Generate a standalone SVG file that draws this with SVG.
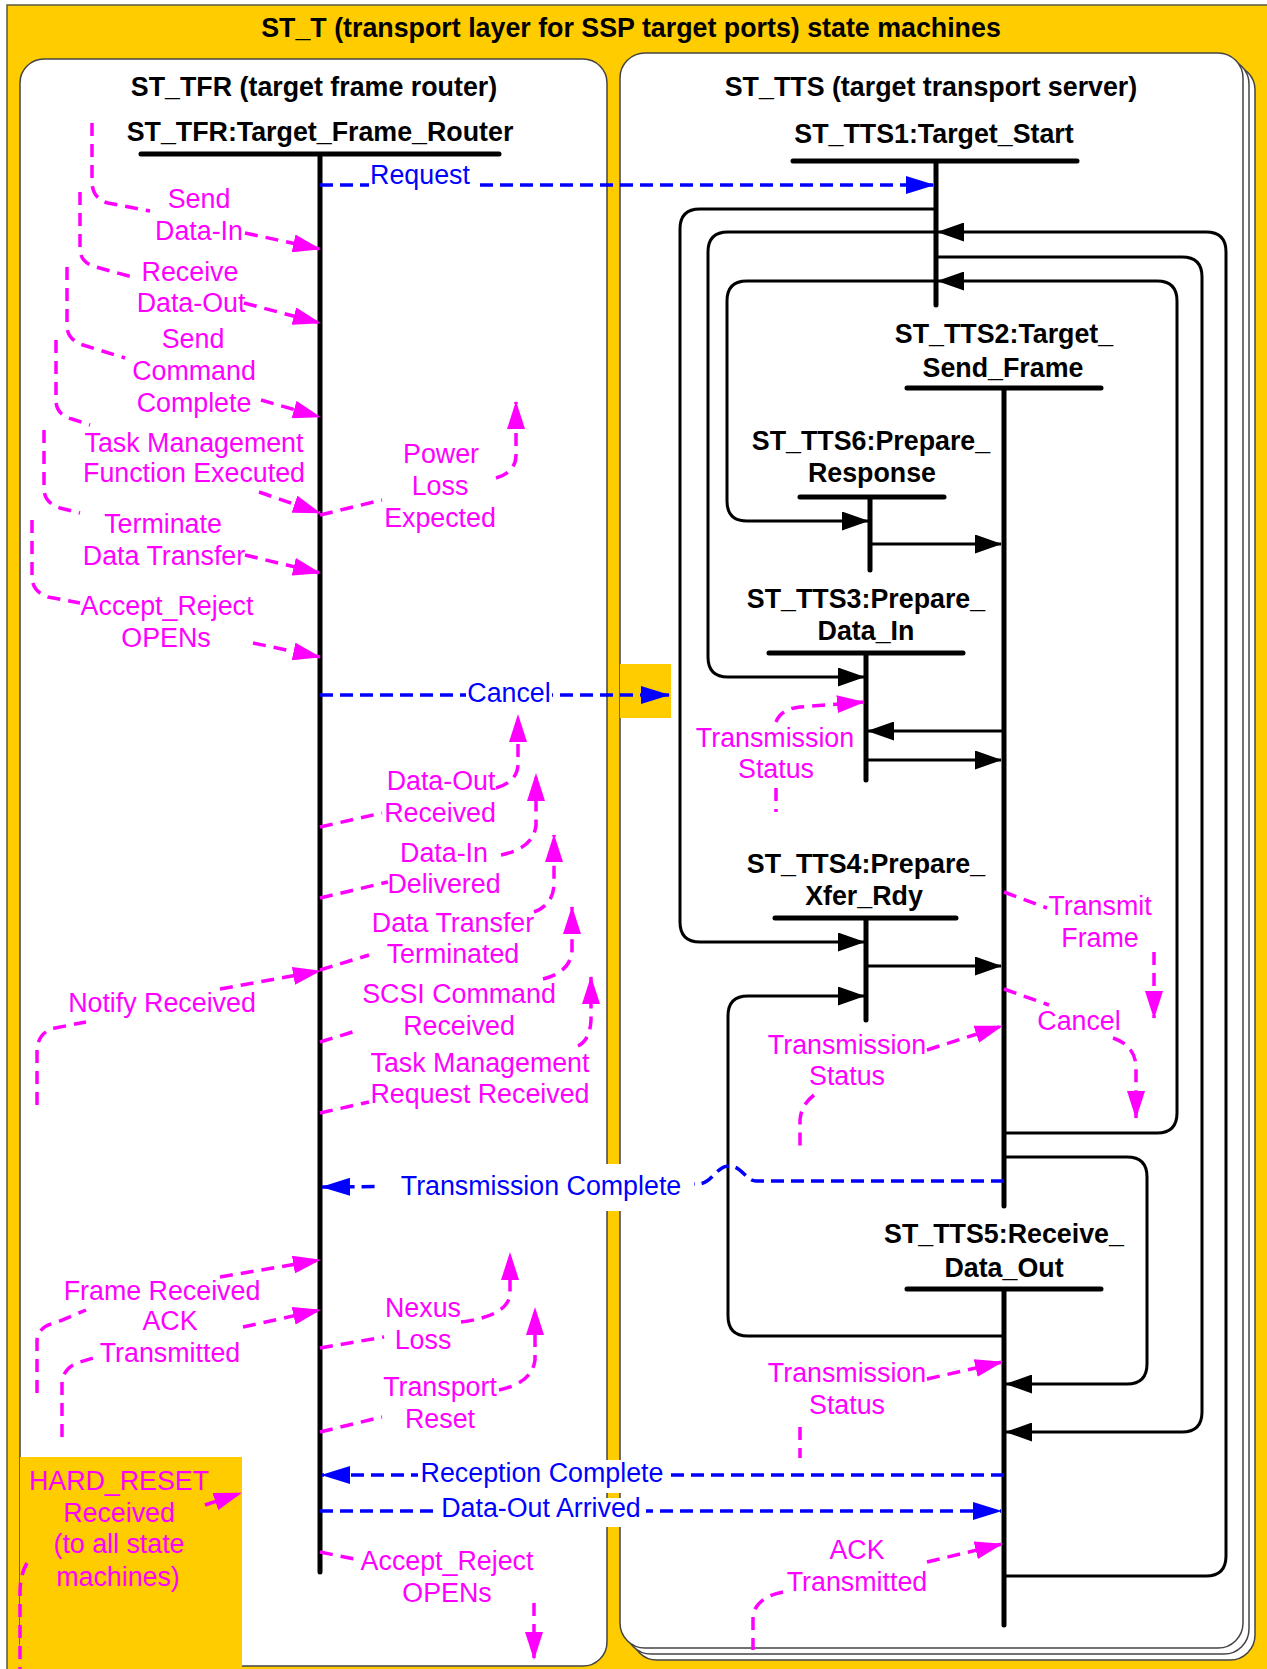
<svg xmlns="http://www.w3.org/2000/svg" width="1267" height="1669" viewBox="0 0 1267 1669">
<style>
.t{font-family:"Liberation Sans",Arial,sans-serif;font-size:26.8px;text-anchor:middle}
.b{font-weight:bold;fill:#000}
.m{fill:#FF00FF}
.u{fill:#0000FF}
.bar{stroke:#000;stroke-width:5;stroke-linecap:round;fill:none}
.loop{stroke:#000;stroke-width:3;fill:none}
.md{stroke:#FF00FF;stroke-width:3.5;stroke-dasharray:13 8;fill:none}
.bd{stroke:#0000FF;stroke-width:3.5;stroke-dasharray:13 7;fill:none}
.panel{fill:#fff;stroke:#444;stroke-width:1.5}
.bg{fill:#fff}
.yl{fill:#FFCC00}
</style>
<defs>
<marker id="aM" markerUnits="userSpaceOnUse" markerWidth="28" markerHeight="18" viewBox="0 0 28 18" refX="27" refY="9" orient="auto"><path d="M0,0 L28,9 L0,18 z" fill="#FF00FF"/></marker>
<marker id="aK" markerUnits="userSpaceOnUse" markerWidth="27" markerHeight="19" viewBox="0 0 27 19" refX="26" refY="9.5" orient="auto"><path d="M0,0 L27,9.5 L0,19 z" fill="#000"/></marker>
<marker id="aB" markerUnits="userSpaceOnUse" markerWidth="29" markerHeight="18" viewBox="0 0 29 18" refX="28" refY="9" orient="auto"><path d="M0,0 L29,9 L0,18 z" fill="#0000FF"/></marker>
</defs>

<g id="frame">
<rect x="7" y="5" width="1268" height="1672" fill="#FFCC00" stroke="#5a5a3a" stroke-width="1.5"/>
<text class="t b" x="631" y="37">ST_T (transport layer for SSP target ports) state machines</text>
</g>

<g id="tts-panel">
<rect class="panel" x="632" y="65" width="623" height="1595" rx="25"/>
<rect class="panel" x="626" y="59" width="623" height="1595" rx="25"/>
<rect class="panel" x="620" y="53" width="623" height="1595" rx="25"/>
<text class="t b" x="931" y="96">ST_TTS (target transport server)</text>
</g>

<g id="tfr-panel">
<rect class="panel" x="20" y="59" width="587" height="1607" rx="24"/>
<text class="t b" x="314" y="96">ST_TFR (target frame router)</text>
</g>

<rect class="yl" x="620" y="664" width="51" height="54"/>
<g id="hard-reset">
<rect class="yl" x="20" y="1457" width="222" height="210"/>
</g>

<g id="st-tfr">
<text class="t b" x="320" y="141">ST_TFR:Target_Frame_Router</text>
<path class="bar" d="M141,154 H499 M320,154 V1572"/>
</g>
<g id="st-tts1">
<text class="t b" x="934" y="143">ST_TTS1:Target_Start</text>
<path class="bar" d="M793,161 H1077 M936,161 V305"/>
</g>
<g id="st-tts2">
<text class="t b" x="1004" y="343">ST_TTS2:Target_</text>
<text class="t b" x="1003" y="377">Send_Frame</text>
<path class="bar" d="M907,388 H1101 M1004,388 V1206"/>
</g>
<g id="st-tts6">
<text class="t b" x="871" y="450">ST_TTS6:Prepare_</text>
<text class="t b" x="872" y="482">Response</text>
<path class="bar" d="M800,497 H944 M870,497 V570"/>
</g>
<g id="st-tts3">
<text class="t b" x="866" y="608">ST_TTS3:Prepare_</text>
<text class="t b" x="866" y="640">Data_In</text>
<path class="bar" d="M769,653 H963 M866,653 V780"/>
</g>
<g id="st-tts4">
<text class="t b" x="866" y="873">ST_TTS4:Prepare_</text>
<text class="t b" x="864" y="905">Xfer_Rdy</text>
<path class="bar" d="M775,918 H956 M866,918 V1020"/>
</g>
<g id="st-tts5">
<text class="t b" x="1004" y="1243">ST_TTS5:Receive_</text>
<text class="t b" x="1004" y="1277">Data_Out</text>
<path class="bar" d="M907,1289 H1101 M1004,1289 V1625"/>
</g>

<g id="connectors">
<path class="loop" marker-end="url(#aK)" d="M936,209 H700 Q680,209 680,229 V922 Q680,942 700,942 H864"/>
<path class="loop" marker-end="url(#aK)" d="M936,232 H728 Q708,232 708,252 V657 Q708,677 728,677 H864"/>
<path class="loop" marker-end="url(#aK)" d="M1004,1576 H1206 Q1226,1576 1226,1556 V252 Q1226,232 1206,232 H938"/>
<path class="loop" marker-end="url(#aK)" d="M936,257 H1182 Q1202,257 1202,277 V1412 Q1202,1432 1182,1432 H1006"/>
<path class="loop" marker-end="url(#aK)" d="M1004,1133 H1157 Q1177,1133 1177,1113 V301 Q1177,281 1157,281 H938"/>
<path class="loop" marker-end="url(#aK)" d="M936,281 H747 Q727,281 727,301 V501 Q727,521 747,521 H868"/>
<path class="loop" marker-end="url(#aK)" d="M1004,1336 H748 Q728,1336 728,1316 V1016 Q728,996 748,996 H864"/>
<path class="loop" marker-end="url(#aK)" d="M1004,1157 H1127 Q1147,1157 1147,1177 V1364 Q1147,1384 1127,1384 H1006"/>
<path class="loop" marker-end="url(#aK)" d="M870,544 H1001"/>
<path class="loop" marker-end="url(#aK)" d="M1004,731 H868"/>
<path class="loop" marker-end="url(#aK)" d="M866,760 H1001"/>
<path class="loop" marker-end="url(#aK)" d="M866,966 H1001"/>

<path class="bd" marker-end="url(#aB)" d="M320,185 H934"/>
<rect class="bg" x="369" y="163" width="104" height="27"/>
<text class="t u" x="420" y="184">Request</text>
<path class="bd" marker-end="url(#aB)" d="M320,695 H669"/>
<rect class="bg" x="466" y="680" width="86" height="27"/>
<text class="t u" x="509" y="702">Cancel</text>
<path class="bd" marker-end="url(#aB)" d="M1004,1181 H756 C746,1181 742,1166 729,1166 C716,1166 712,1184 698,1184 L322,1187"/>
<rect class="bg" x="380" y="1164" width="314" height="47"/>
<text class="t u" x="541" y="1195">Transmission Complete</text>
<path class="bd" marker-end="url(#aB)" d="M1004,1475 H322"/>
<rect class="bg" x="418" y="1460" width="248" height="33"/>
<text class="t u" x="542" y="1482">Reception Complete</text>
<path class="bd" marker-end="url(#aB)" d="M320,1511 H1001"/>
<rect class="bg" x="438" y="1498" width="208" height="29"/>
<text class="t u" x="541" y="1517">Data-Out Arrived</text>

<path class="md" d="M92,123 V183 Q93,199 108,203 L150,211"/>
<path class="md" marker-end="url(#aM)" d="M245,233 L320,249"/>
<text class="t m" x="199" y="208">Send</text>
<text class="t m" x="199" y="240">Data-In</text>

<path class="md" d="M80,192 V250 Q81,263 96,267 L136,278"/>
<path class="md" marker-end="url(#aM)" d="M244,303 L320,323"/>
<text class="t m" x="190" y="281">Receive</text>
<text class="t m" x="191" y="312">Data-Out</text>

<path class="md" d="M67,267 V327 Q68,340 83,345 L125,358"/>
<path class="md" marker-end="url(#aM)" d="M261,400 L320,417"/>
<text class="t m" x="193" y="348">Send</text>
<text class="t m" x="194" y="380">Command</text>
<text class="t m" x="194" y="412">Complete</text>

<path class="md" d="M56,340 V402 Q57,415 72,419 L90,425"/>
<path class="md" marker-end="url(#aM)" d="M259,492 L320,513"/>
<text class="t m" x="194" y="452">Task Management</text>
<text class="t m" x="194" y="482">Function Executed</text>

<path class="md" d="M320,515 L382,500"/>
<path class="md" marker-end="url(#aM)" d="M496,478 Q516,472 516,455 V402"/>
<text class="t m" x="441" y="463">Power</text>
<text class="t m" x="440" y="495">Loss</text>
<text class="t m" x="440" y="527">Expected</text>

<path class="md" d="M44,430 V490 Q45,503 60,508 L80,513"/>
<path class="md" marker-end="url(#aM)" d="M245,555 L320,573"/>
<text class="t m" x="163" y="533">Terminate</text>
<text class="t m" x="164" y="565">Data Transfer</text>

<path class="md" d="M32,520 V578 Q33,592 48,597 L80,603"/>
<path class="md" marker-end="url(#aM)" d="M253,643 L320,657"/>
<text class="t m" x="167" y="615">Accept_Reject</text>
<text class="t m" x="166" y="647">OPENs</text>

<path class="md" d="M320,827 L382,813"/>
<path class="md" marker-end="url(#aM)" d="M496,788 Q517,782 518,765 V715"/>
<text class="t m" x="441" y="790">Data-Out</text>
<text class="t m" x="440" y="822">Received</text>

<path class="md" d="M320,898 L388,882"/>
<path class="md" marker-end="url(#aM)" d="M501,855 Q534,848 536,825 V774"/>
<text class="t m" x="444" y="862">Data-In</text>
<text class="t m" x="444" y="893">Delivered</text>

<path class="md" d="M320,970 L369,955"/>
<path class="md" marker-end="url(#aM)" d="M534,912 Q553,905 554,885 V835"/>
<text class="t m" x="453" y="932">Data Transfer</text>
<text class="t m" x="453" y="963">Terminated</text>

<path class="md" d="M37,1105 V1050 Q38,1032 55,1028 L86,1022"/>
<path class="md" marker-end="url(#aM)" d="M220,989 L320,971"/>
<text class="t m" x="162" y="1012">Notify Received</text>

<path class="md" d="M320,1042 L359,1030"/>
<path class="md" marker-end="url(#aM)" d="M543,979 Q571,972 572,950 V907"/>
<text class="t m" x="459" y="1003">SCSI Command</text>
<text class="t m" x="459" y="1035">Received</text>

<path class="md" d="M320,1113 L369,1102"/>
<path class="md" marker-end="url(#aM)" d="M578,1046 Q590,1040 591,1020 V977"/>
<text class="t m" x="480" y="1072">Task Management</text>
<text class="t m" x="480" y="1103">Request Received</text>

<path class="md" d="M37,1393 V1340 Q39,1326 55,1323 L86,1310"/>
<path class="md" marker-end="url(#aM)" d="M220,1277 L320,1260"/>
<text class="t m" x="162" y="1300">Frame Received</text>

<path class="md" d="M62,1437 V1382 Q64,1367 80,1362 L100,1356"/>
<path class="md" marker-end="url(#aM)" d="M243,1327 L320,1310"/>
<text class="t m" x="170" y="1330">ACK</text>
<text class="t m" x="170" y="1362">Transmitted</text>

<path class="md" d="M320,1348 L384,1337"/>
<path class="md" marker-end="url(#aM)" d="M461,1322 Q507,1316 510,1295 V1253"/>
<text class="t m" x="423" y="1317">Nexus</text>
<text class="t m" x="423" y="1349">Loss</text>

<path class="md" d="M320,1432 L382,1417"/>
<path class="md" marker-end="url(#aM)" d="M499,1390 Q532,1383 535,1360 V1308"/>
<text class="t m" x="440" y="1396">Transport</text>
<text class="t m" x="440" y="1428">Reset</text>

<path class="md" d="M320,1552 L359,1560"/>
<path class="md" marker-end="url(#aM)" d="M534,1603 V1659"/>
<text class="t m" x="447" y="1570">Accept_Reject</text>
<text class="t m" x="447" y="1602">OPENs</text>

<path class="md" d="M27,1563 Q20,1575 20,1592 V1669"/>
<path class="md" marker-end="url(#aM)" d="M205,1505 L241,1493"/>
<text class="t m" x="119" y="1490">HARD_RESET</text>
<text class="t m" x="119" y="1522">Received</text>
<text class="t m" x="119" y="1553">(to all state</text>
<text class="t m" x="118" y="1586">machines)</text>

<path class="md" marker-end="url(#aM)" d="M776,722 Q781,709 800,707 L864,702"/>
<path class="md" d="M776,788 V812"/>
<text class="t m" x="775" y="747">Transmission</text>
<text class="t m" x="776" y="778">Status</text>

<path class="md" d="M1004,892 L1047,908"/>
<path class="md" marker-end="url(#aM)" d="M1154,952 V1018"/>
<text class="t m" x="1100" y="915">Transmit</text>
<text class="t m" x="1100" y="947">Frame</text>

<path class="md" d="M1004,989 L1049,1005"/>
<path class="md" marker-end="url(#aM)" d="M1113,1038 Q1134,1045 1136,1065 V1118"/>
<text class="t m" x="1079" y="1030">Cancel</text>

<path class="md" marker-end="url(#aM)" d="M927,1050 L1002,1026"/>
<path class="md" d="M814,1095 Q801,1105 800,1120 V1147"/>
<text class="t m" x="847" y="1054">Transmission</text>
<text class="t m" x="847" y="1085">Status</text>

<path class="md" marker-end="url(#aM)" d="M927,1379 L1002,1362"/>
<path class="md" d="M800,1427 V1458"/>
<text class="t m" x="847" y="1382">Transmission</text>
<text class="t m" x="847" y="1414">Status</text>

<path class="md" marker-end="url(#aM)" d="M927,1562 L1002,1544"/>
<path class="md" d="M783,1592 Q757,1597 753,1615 V1650"/>
<text class="t m" x="857" y="1559">ACK</text>
<text class="t m" x="857" y="1591">Transmitted</text>
</g>
</svg>
